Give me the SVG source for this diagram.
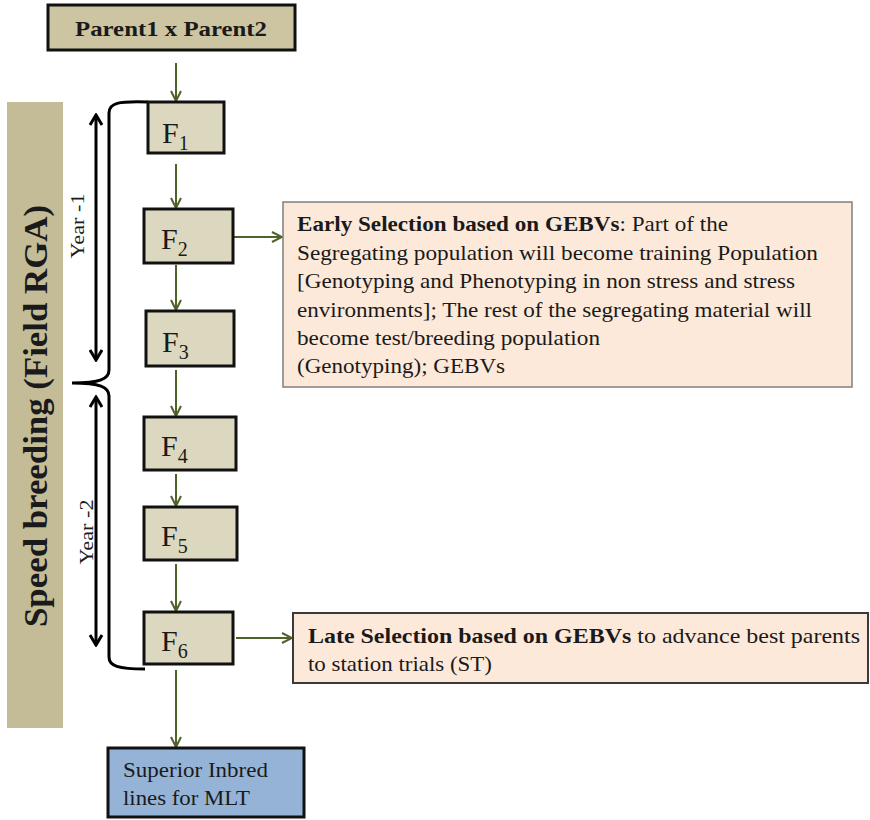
<svg xmlns="http://www.w3.org/2000/svg" width="870" height="820" viewBox="0 0 870 820">
  <defs>
    <style>
      text { font-family: 'Liberation Serif', 'Times New Roman', Times, serif; fill: #1a1a1a; }
      .gen { fill: #dcd7bf; stroke: #111; stroke-width: 3; }
      .note { fill: #fde9d9; stroke: #7f7f7f; stroke-width: 1.5; }
      .flow { stroke: #4f6228; stroke-width: 2; fill: none; marker-end: url(#greenHead); }
      .span { stroke: #000; stroke-width: 3; fill: none; marker-start: url(#blackHead); marker-end: url(#blackHead); }
      .flab { font-size: 30px; }
      .sub { font-size: 20px; }
    </style>
    <marker id="greenHead" viewBox="0 0 12 12" refX="11" refY="6" markerWidth="12" markerHeight="12" markerUnits="userSpaceOnUse" orient="auto-start-reverse">
      <path d="M1,1 L11,6 L1,11" fill="none" stroke="#4f6228" stroke-width="2"/>
    </marker>
    <marker id="blackHead" viewBox="0 0 14 14" refX="12" refY="7" markerWidth="14" markerHeight="14" markerUnits="userSpaceOnUse" orient="auto-start-reverse">
      <path d="M2,1 L12,7 L2,13" fill="none" stroke="#000" stroke-width="3"/>
    </marker>
  </defs>

  <rect width="870" height="820" fill="#fff"/>

  <!-- side band -->
  <g id="speed-breeding">
    <rect x="7" y="102" width="56" height="626" fill="#c4bc97"/>
    <text transform="translate(47,416) rotate(-90)" text-anchor="middle" font-family="'Liberation Serif', serif" font-size="33" font-weight="bold" textLength="422" lengthAdjust="spacingAndGlyphs">Speed breeding (Field RGA)</text>
  </g>

  <!-- year spans and brace -->
  <g id="year-1">
    <line class="span" x1="96" y1="115" x2="96" y2="360"/>
    <text transform="translate(84,226) rotate(-90)" text-anchor="middle" font-size="19" textLength="65" lengthAdjust="spacingAndGlyphs">Year -1</text>
  </g>
  <g id="year-2">
    <line class="span" x1="96" y1="397" x2="96" y2="645"/>
    <text transform="translate(93,532) rotate(-90)" text-anchor="middle" font-size="19" textLength="65" lengthAdjust="spacingAndGlyphs">Year -2</text>
  </g>
  <g id="brace">
    <path d="M148,102 C118,101 109,103 109,113 L109,370 C109,379 100,383 72,383 C100,383 109,387 109,396 L109,657 C109,666 118,669 145,669" fill="none" stroke="#000" stroke-width="3"/>
  </g>

  <!-- connectors -->
  <g id="connectors">
    <line class="flow" x1="176" y1="63" x2="176" y2="101"/>
    <line class="flow" x1="176" y1="164" x2="176" y2="208"/>
    <line class="flow" x1="176" y1="265" x2="176" y2="310"/>
    <line class="flow" x1="176" y1="370" x2="176" y2="416"/>
    <line class="flow" x1="176" y1="474" x2="176" y2="506"/>
    <line class="flow" x1="176" y1="564" x2="176" y2="611"/>
    <line class="flow" x1="176" y1="670" x2="176" y2="747"/>
    <line class="flow" x1="234" y1="237" x2="282" y2="237"/>
    <line class="flow" x1="236" y1="638" x2="292" y2="638"/>
  </g>

  <!-- nodes -->
  <g id="parents">
    <rect x="48" y="5" width="247" height="45" fill="#cdc5a2" stroke="#111" stroke-width="3"/>
    <text x="171" y="36" text-anchor="middle" font-size="21" font-weight="bold" textLength="192" lengthAdjust="spacingAndGlyphs">Parent1  x  Parent2</text>
  </g>

  <g id="f1">
    <rect class="gen" x="148" y="102" width="76" height="51"/>
    <text class="flab" x="162" y="143">F<tspan class="sub" dy="7">1</tspan></text>
  </g>
  <g id="f2">
    <rect class="gen" x="144" y="209" width="89" height="54"/>
    <text class="flab" x="161" y="249">F<tspan class="sub" dy="7">2</tspan></text>
  </g>
  <g id="f3">
    <rect class="gen" x="146" y="311" width="88" height="55"/>
    <text class="flab" x="162" y="352">F<tspan class="sub" dy="7">3</tspan></text>
  </g>
  <g id="f4">
    <rect class="gen" x="144" y="417" width="92" height="53"/>
    <text class="flab" x="161" y="456">F<tspan class="sub" dy="7">4</tspan></text>
  </g>
  <g id="f5">
    <rect class="gen" x="144" y="507" width="93" height="53"/>
    <text class="flab" x="161" y="546">F<tspan class="sub" dy="7">5</tspan></text>
  </g>
  <g id="f6">
    <rect class="gen" x="144" y="612" width="89" height="52"/>
    <text class="flab" x="161" y="651">F<tspan class="sub" dy="7">6</tspan></text>
  </g>

  <g id="early-selection">
    <rect class="note" x="283" y="202" width="569" height="185"/>
    <g font-size="21">
      <text x="297" y="231" textLength="431" lengthAdjust="spacingAndGlyphs"><tspan font-weight="bold">Early Selection based on GEBVs</tspan>: Part of the</text>
      <text x="297" y="260" textLength="521" lengthAdjust="spacingAndGlyphs">Segregating population will become training Population</text>
      <text x="297" y="288" textLength="498" lengthAdjust="spacingAndGlyphs">[Genotyping and Phenotyping in non stress and stress</text>
      <text x="297" y="317" textLength="515" lengthAdjust="spacingAndGlyphs">environments]; The rest of the segregating material will</text>
      <text x="297" y="345" textLength="303" lengthAdjust="spacingAndGlyphs">become test/breeding population</text>
      <text x="297" y="373" textLength="208" lengthAdjust="spacingAndGlyphs">(Genotyping); GEBVs</text>
    </g>
  </g>

  <g id="late-selection">
    <rect x="293" y="613" width="575" height="70" fill="#fde9d9" stroke="#3a3a3a" stroke-width="2"/>
    <g font-size="21">
      <text x="308" y="643" textLength="552" lengthAdjust="spacingAndGlyphs"><tspan font-weight="bold">Late Selection based on GEBVs</tspan> to advance best parents</text>
      <text x="308" y="671" textLength="184" lengthAdjust="spacingAndGlyphs">to station trials (ST)</text>
    </g>
  </g>

  <g id="superior-lines">
    <rect x="108" y="748" width="196" height="69" fill="#95b3d7" stroke="#111" stroke-width="3"/>
    <g font-size="22">
      <text x="123" y="777" textLength="145" lengthAdjust="spacingAndGlyphs">Superior Inbred</text>
      <text x="123" y="805" textLength="127" lengthAdjust="spacingAndGlyphs">lines for MLT</text>
    </g>
  </g>
</svg>
